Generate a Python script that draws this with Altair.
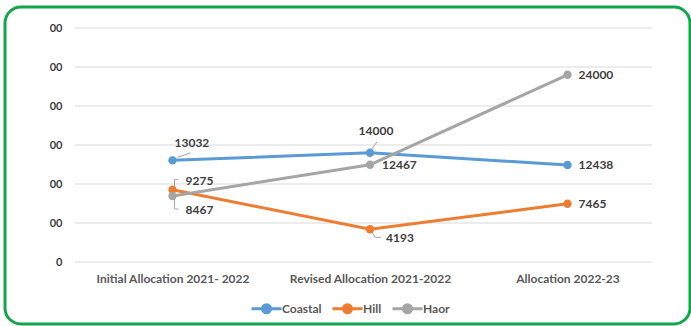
import altair as alt
import pandas as pd

categories = ["Initial Allocation 2021- 2022", "Revised Allocation  2021-2022", "Allocation 2022-23"]
series = ["Coastal", "Hill", "Haor"]
coastal = [13032, 14000, 12438]
hill = [9275, 4193, 7465]
haor = [8467, 12467, 24000]
y_ticks = [0, 5000, 10000, 15000, 20000, 25000, 30000]
colors = ["#5b9bd5", "#ed7d31", "#a5a5a5"]

rows = []
for s, vals in zip(series, [coastal, hill, haor]):
    for i, (c, v) in enumerate(zip(categories, vals)):
        rows.append({"series": s, "cat": c, "idx": i, "value": v})
df = pd.DataFrame(rows)
grid_df = pd.DataFrame({"value": y_ticks})

# label placement (dx, dy, align) per series / category index
label_pos = {
    ("Coastal", 0): (2, -17, "left"),
    ("Coastal", 1): (6, -22, "center"),
    ("Coastal", 2): (11, 0, "left"),
    ("Hill", 0): (13, -9, "left"),
    ("Hill", 1): (16, 9, "left"),
    ("Hill", 2): (11, 0, "left"),
    ("Haor", 0): (13, 14, "left"),
    ("Haor", 1): (12, 0, "left"),
    ("Haor", 2): (11, 0, "left"),
}
# leader line segments (start dx, dy, end dx, dy) relative to the point
leaders = {
    ("Coastal", 0): [(5, -3, 18, -7.5)],
    ("Coastal", 1): [(2, -4, 7, -11)],
    ("Hill", 0): [(2, -3, 2, -10), (2, -10, 6, -10)],
    ("Haor", 0): [(2, 3, 2, 13), (2, 13, 6, 13)],
    ("Hill", 1): [(2, 3, 5, 8), (5, 8, 11, 8)],
}

FONT = "Lato"
W, H = 577, 234

x = alt.X("cat:N", sort=categories, title=None,
          scale=alt.Scale(type="point", range=[97.5, 492.5], padding=0),
          axis=alt.Axis(labelAngle=0, domain=False, ticks=False, grid=False,
                        labelFont=FONT, labelFontWeight="bold", labelFontSize=12,
                        labelColor="#595959", labelPadding=11))
y = alt.Y("value:Q", title=None,
          scale=alt.Scale(domain=[0, 30000], nice=False),
          axis=alt.Axis(values=y_ticks,
                        labelExpr="datum.value == 0 ? '0' : '00'",
                        domain=False, ticks=False, grid=False,
                        labelFont=FONT, labelFontWeight="bold", labelFontSize=11,
                        labelColor="#404040", labelPadding=13))
color = alt.Color("series:N", sort=series,
                  scale=alt.Scale(domain=series, range=colors),
                  legend=alt.Legend(title=None, orient="none", direction="horizontal",
                                    legendX=180, legendY=269,
                                    symbolType="M-1.5,0L-0.4,0M0.4,0L1.5,0M-0.4,0A0.4,0.4 0 1 1 0.4,0A0.4,0.4 0 1 1 -0.4,0",
                                    symbolSize=400, symbolStrokeWidth=3,
                                    labelFont=FONT, labelFontWeight="bold", labelFontSize=12,
                                    labelColor="#595959", columnPadding=4, labelOffset=4))

layers = []
border = alt.Chart(pd.DataFrame({"a": [0]})).mark_rect(
    fill=None, stroke="#10a64a", strokeWidth=3, cornerRadius=16
).encode(x=alt.value(-70), x2=alt.value(615), y=alt.value(-21), y2=alt.value(296))
layers.append(border)

grid = alt.Chart(grid_df).mark_rule(color="#d9d9d9", strokeWidth=1).encode(
    y=y, x=alt.value(0), x2=alt.value(W))
layers.append(grid)

base = alt.Chart(df)
for (s, i), segs in leaders.items():
    for (x0, y0, x1, y1) in segs:
        r = base.transform_filter(
            (alt.datum.series == s) & (alt.datum.idx == i)
        ).mark_rule(color="#a6a6a6", strokeWidth=1,
                    xOffset=x0, yOffset=y0, x2Offset=x1, y2Offset=y1).encode(
            x=x, y=y, x2="cat:N", y2="value:Q")
        layers.append(r)

lines = base.mark_line(strokeWidth=3).encode(x=x, y=y, color=color, order="idx:Q")
points = base.mark_circle(size=70, opacity=1).encode(x=x, y=y, color=color)
layers += [lines, points]

for (s, i), (dx, dy, al) in label_pos.items():
    t = base.transform_filter(
        (alt.datum.series == s) & (alt.datum.idx == i)
    ).mark_text(dx=dx, dy=dy, align=al, baseline="middle", font=FONT,
                fontWeight="bold", fontSize=12, color="#404040").encode(
        x=x, y=y, text="value:Q")
    layers.append(t)

chart = alt.layer(*layers).properties(
    width=W, height=H,
    autosize=alt.AutoSizeParams(type="none"),
    padding={"left": 75, "top": 28, "right": 39, "bottom": 64},
    background="white",
).configure_view(stroke=None)

chart.save("out.html", embed_options={"renderer": "svg", "actions": False})
